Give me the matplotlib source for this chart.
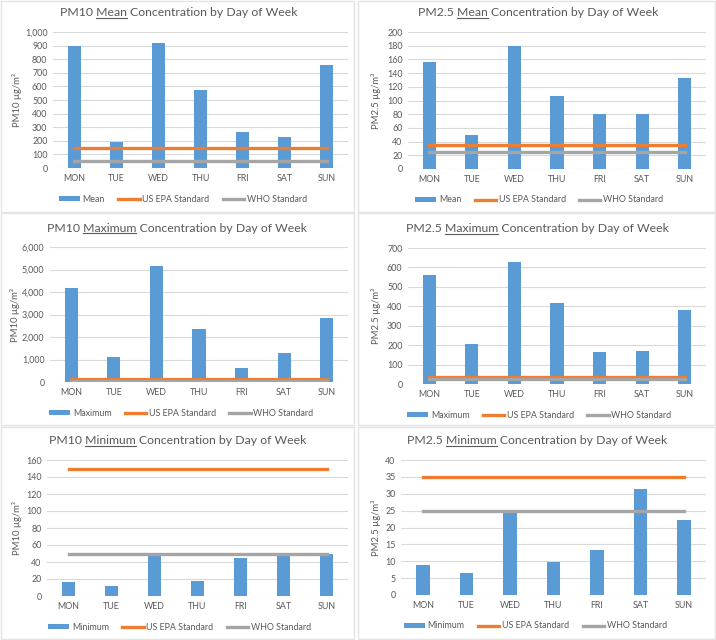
import matplotlib.pyplot as plt
from matplotlib.lines import Line2D
from matplotlib.patches import Rectangle, Patch
from matplotlib.ticker import FuncFormatter, MultipleLocator

plt.rcParams['font.family'] = ['Lato', 'DejaVu Sans']

days = ["MON", "TUE", "WED", "THU", "FRI", "SAT", "SUN"]

pm10_mean = [895, 190, 920, 570, 262, 230, 755]
pm25_mean = [156, 50, 179, 107, 81, 81, 133]
pm10_max = [4170, 1100, 5150, 2360, 630, 1300, 2830]
pm25_max = [560, 205, 630, 415, 165, 170, 380]
pm10_min = [17, 12, 51, 18, 45, 49, 49]
pm25_min = [8.8, 6.4, 24.3, 9.7, 13.4, 31.4, 22.1]

pm10_epa = [150] * 7
pm10_who = [50] * 7
pm25_epa = [35] * 7
pm25_who = [25] * 7

BLUE = "#5B9BD5"
ORANGE = "#ED7D31"
GRAY = "#A5A5A5"
GRID = "#D9D9D9"
TXT = "#595959"

W, H = 716, 640
fig = plt.figure(figsize=(W / 100, H / 100), dpi=100)

# panel frames (pixels: x0, y0, x1, y1 from top-left)
frames = [(1, 1, 354, 212), (358, 1, 715, 212),
          (1, 213, 354, 425), (358, 213, 715, 425),
          (1, 427, 354, 639), (358, 427, 715, 639)]
for x0, y0, x1, y1 in frames:
    fig.patches.append(Rectangle((x0 / W, 1 - y1 / H), (x1 - x0) / W, (y1 - y0) / H,
                                 transform=fig.transFigure, fill=False,
                                 edgecolor="#E3E3E3", linewidth=1))

# name, stat, values, epa, who, ymax, step, comma, plot box(px), title pos(px), ylabel x(px)
panels = [
    ("PM10", "Mean", pm10_mean, pm10_epa, pm10_who, 1000, 100, True,
     (53, 32, 348, 168), (179, 13), 17),
    ("PM2.5", "Mean", pm25_mean, pm25_epa, pm25_who, 200, 20, False,
     (408, 32, 706, 169), (538, 13), 376),
    ("PM10", "Maximum", pm10_max, pm10_epa, pm10_who, 6000, 1000, True,
     (50, 247, 348, 382), (177, 228), 15),
    ("PM2.5", "Maximum", pm25_max, pm25_epa, pm25_who, 700, 100, False,
     (408, 248, 706, 384), (537, 229), 376),
    ("PM10", "Minimum", pm10_min, pm10_epa, pm10_who, 160, 20, False,
     (47, 460, 348, 596), (178, 441), 17),
    ("PM2.5", "Minimum", pm25_min, pm25_epa, pm25_who, 40, 5, False,
     (401, 460, 706, 595), (537, 441), 376),
]

titles = []
for name, stat, vals, epa, who, ymax, step, comma, box, tpos, ylx in panels:
    l, t, r, b = box
    ax = fig.add_axes([l / W, 1 - b / H, (r - l) / W, (b - t) / H])
    x = list(range(len(days)))
    ax.bar(x, vals, width=0.31, color=BLUE, zorder=2)
    ax.plot(x, epa, color=ORANGE, linewidth=2.4, zorder=3)
    ax.plot(x, who, color=GRAY, linewidth=2.4, zorder=3)
    ax.set_xlim(-0.5, 6.5)
    ax.set_ylim(0, ymax)
    ax.yaxis.set_major_locator(MultipleLocator(step))
    if comma:
        ax.yaxis.set_major_formatter(FuncFormatter(lambda v, p: f"{v:,.0f}"))
    ax.set_xticks(x)
    ax.set_xticklabels(days)
    ax.grid(axis="y", color=GRID, linewidth=0.8, zorder=0)
    ax.set_axisbelow(True)
    for s in ax.spines.values():
        s.set_visible(False)
    ax.tick_params(length=0, labelsize=6.4, colors=TXT, pad=4)
    ax.tick_params(axis="x", pad=4)
    yc = 1 - (t + b) / 2 / H
    fig.text(ylx / W, yc, f"{name} µg/m³", rotation=90, ha="center", va="center",
             fontsize=6.8, color=TXT)
    handles = [Patch(facecolor=BLUE), Line2D([], [], color=ORANGE, linewidth=2.4),
               Line2D([], [], color=GRAY, linewidth=2.4)]
    leg = ax.legend(handles, [stat, "US EPA Standard", "WHO Standard"],
                    loc="center", bbox_to_anchor=(0.44, -31 / (b - t)), ncol=3,
                    frameon=False, fontsize=6.4, handlelength=2.4, handleheight=0.6,
                    handletextpad=0.3, columnspacing=1.5)
    for txt in leg.get_texts():
        txt.set_color(TXT)
    titles.append((name + " ", stat, " Concentration by Day of Week", tpos))

# titles with the statistic underlined
renderer = fig.canvas.get_renderer()
for pre, word, post, (xc, yc) in titles:
    kw = dict(fontsize=8.8, color=TXT, va="center")
    full = fig.text(xc / W, 1 - yc / H, pre + word + post, ha="center", **kw)
    bb = full.get_window_extent(renderer)
    tmp = fig.text(0, 0, pre + word, ha="left", **kw)
    w_pw = tmp.get_window_extent(renderer).width
    tmp.remove()
    tmp = fig.text(0, 0, word, ha="left", **kw)
    w_w = tmp.get_window_extent(renderer).width
    tmp.remove()
    x1 = bb.x0 + w_pw
    x0 = x1 - w_w
    uy = bb.y0 + 1
    fig.add_artist(Line2D([x0 / W, x1 / W], [uy / H, uy / H], transform=fig.transFigure,
                          color=TXT, linewidth=0.8))

fig.savefig("out.png", dpi=100)
